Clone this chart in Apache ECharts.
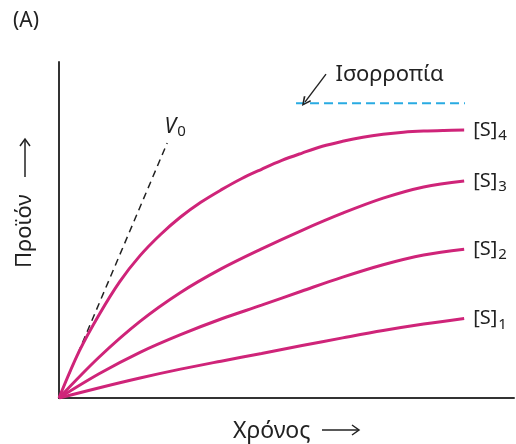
<!DOCTYPE html>
<html>
<head>
<meta charset="utf-8">
<script src="https://cdn.jsdelivr.net/npm/echarts@6/dist/echarts.min.js"></script>
<style>
html,body{margin:0;padding:0;background:#fff;}
#chart{width:516px;height:444px;}
</style>
</head>
<body>
<div id="chart"></div>
<script>
// Time points (arbitrary units)
const times = [0, 10, 20, 30, 40, 50, 60, 70, 80, 90, 100];
const timesFine = [0, 5, 10, 15, 20, 25, 30, 35, 40, 45, 50, 55, 60, 65, 70, 75, 80, 85, 90, 95, 100];
// Product formed for four substrate concentrations
const s1 = [0, 3.5, 6.8, 9.8, 12.5, 15.1, 17.8, 20.4, 22.9, 25.1, 27.0];
const s2 = [0, 8.3, 15.5, 21.5, 26.8, 31.5, 36.3, 41.0, 45.2, 48.5, 50.5];
const s3 = [0, 14.0, 26.0, 35.8, 43.8, 50.6, 56.9, 62.7, 67.8, 71.6, 73.6];
const s4 = [0, 15.9, 28.5, 39.5, 48.3, 55.4, 61.4, 66.4, 70.6, 74.4, 77.6, 80.6, 83.1, 85.4, 87.1, 88.5, 89.5, 90.2, 90.6, 90.8, 90.9];
const seriesNames = ['1', '2', '3', '4'];
// Initial velocity tangent V0
const v0Times = [0, 26.7];
const v0Values = [0, 86.5];
// Equilibrium level
const eqTimes = [58.5, 100.2];
const eqValue = 100;
// Annotation arrow (from, to) and label anchor
const arrowFrom = [65.9, 109.9];
const arrowTo = [60.7, 100.4];
const eqLabelAt = [68.1, 109.6];

const MAGENTA = '#cf2479';
const INK = '#222';
const FONT = '"Noto Sans", "DejaVu Sans", sans-serif';

function pairs(xs, ys) { return xs.map((x, i) => [x, ys[i]]); }

const hidden = { color: 'rgba(0,0,0,0)' };

const sData = [[times, s1], [times, s2], [times, s3], [timesFine, s4]];
const curveSeries = sData.map((d, i) => ({
  type: 'line',
  name: '[S]' + seriesNames[i],
  data: pairs(d[0], d[1]),
  smooth: 0.35,
  showSymbol: false,
  symbol: 'none',
  lineStyle: { color: MAGENTA, width: 3 },
  z: 3,
  endLabel: {
    show: true,
    distance: 9,
    formatter: '{a|[S]}{b|' + seriesNames[i] + '}',
    rich: {
      a: { fontFamily: FONT, fontSize: 20, color: INK },
      b: { fontFamily: FONT, fontSize: 15, color: INK, padding: [12, 0, 0, 1] }
    }
  }
}));

const chart = echarts.init(document.getElementById('chart'), null, { renderer: 'canvas' });
chart.setOption({
  animation: false,
  backgroundColor: '#fff',
  grid: { left: 59, right: 2, top: 62, bottom: 46 },
  xAxis: {
    type: 'value', min: 0, max: 112.3,
    axisLine: { show: true, onZero: false, lineStyle: { color: '#333', width: 2 } },
    axisTick: { show: false }, axisLabel: { show: false }, splitLine: { show: false }
  },
  yAxis: {
    type: 'value', min: 0, max: 114,
    axisLine: { show: true, onZero: false, lineStyle: { color: '#333', width: 2 } },
    axisTick: { show: false }, axisLabel: { show: false }, splitLine: { show: false }
  },
  series: [
    {
      type: 'line',
      name: 'V0',
      data: pairs(v0Times, v0Values),
      showSymbol: false, symbol: 'none',
      lineStyle: { color: INK, width: 1.5, type: [7, 5] },
      z: 2,
      markPoint: {
        symbol: 'circle', symbolSize: 1, itemStyle: hidden,
        data: [{
          coord: [v0Times[1], v0Values[1]],
          label: {
            show: true, position: 'top', distance: 3, offset: [8, 0],
            formatter: '{v|V}{s|0}',
            rich: {
              v: { fontFamily: FONT, fontStyle: 'italic', fontSize: 21, color: INK },
              s: { fontFamily: FONT, fontSize: 15, color: INK, padding: [10, 0, 0, 1] }
            }
          }
        }]
      }
    },
    {
      type: 'line',
      name: 'Ισορροπία',
      data: [[eqTimes[0], eqValue], [eqTimes[1], eqValue]],
      showSymbol: false, symbol: 'none',
      lineStyle: { color: '#29abe2', width: 1.8, type: [9, 5] },
      z: 2,
      markLine: {
        silent: true,
        symbol: ['none', 'path://M5,0 L10,9 L8.4,10 L5,3.2 L1.6,10 L0,9 Z'],
        symbolSize: [9, 10],
        lineStyle: { color: INK, width: 1.4, type: 'solid' },
        label: { show: false },
        data: [[{ coord: arrowFrom }, { coord: arrowTo }]]
      },
      markPoint: {
        symbol: 'circle', symbolSize: 1, itemStyle: hidden,
        data: [{
          coord: eqLabelAt,
          label: {
            show: true, position: 'right', distance: 0,
            formatter: 'Ισορροπία',
            fontFamily: FONT, fontSize: 22, color: INK
          }
        }]
      }
    }
  ].concat(curveSeries),
  graphic: [
    { type: 'text', left: 13, top: 11, style: { text: '(A)', fontFamily: FONT, fontSize: 21, fill: INK } },
    // x-axis title with arrow
    { type: 'text', x: 233, y: 431, style: { text: 'Χρόνος', fontFamily: FONT, fontSize: 23, fill: INK, verticalAlign: 'middle', align: 'left' } },
    { type: 'line', shape: { x1: 322, y1: 430, x2: 359, y2: 430 }, style: { stroke: INK, lineWidth: 1.5 } },
    { type: 'polyline', shape: { points: [[352, 425], [359, 430], [352, 435]] }, style: { stroke: INK, lineWidth: 1.5, fill: null } },
    // y-axis title with arrow
    { type: 'text', x: 25, y: 268, rotation: Math.PI / 2, style: { text: 'Προϊόν', fontFamily: FONT, fontSize: 22, fill: INK, verticalAlign: 'middle', align: 'left' } },
    { type: 'line', shape: { x1: 25, y1: 177, x2: 25, y2: 139 }, style: { stroke: INK, lineWidth: 1.5 } },
    { type: 'polyline', shape: { points: [[20, 146], [25, 139], [30, 146]] }, style: { stroke: INK, lineWidth: 1.5, fill: null } }
  ]
});
</script>
</body>
</html>
